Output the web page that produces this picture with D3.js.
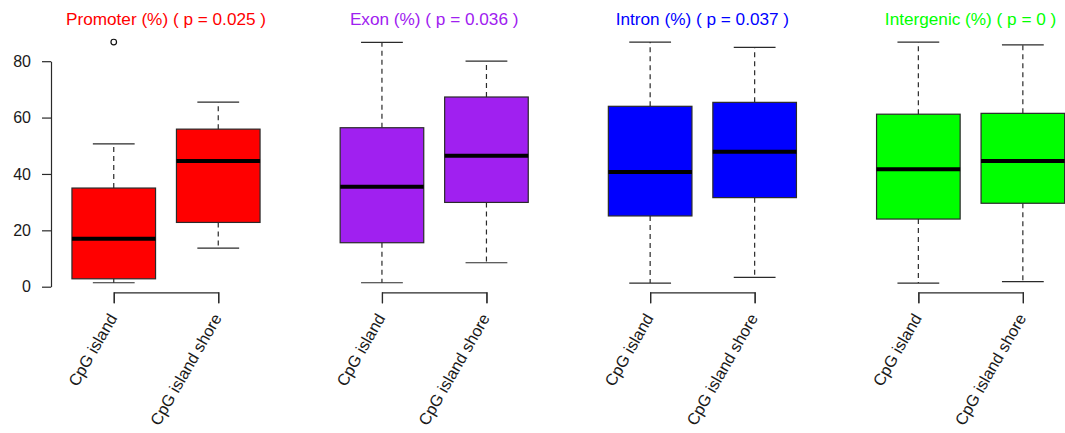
<!DOCTYPE html>
<html>
<head>
<meta charset="utf-8">
<script src="https://cdn.jsdelivr.net/npm/d3@7"></script>
<style>
  html, body { margin: 0; padding: 0; background: #fff; }
  svg { display: block; font-family: "Liberation Sans", Arial, sans-serif; }
</style>
</head>
<body>
<svg id="chart" width="1065" height="433"></svg>
<script>
// ---- Data ----
const categories = ["CpG island", "CpG island shore"];
const panelNames = ["Promoter", "Exon", "Intron", "Intergenic"];
const pValues = ["0.025", "0.036", "0.037", "0"];
const yTicks = [0, 20, 40, 60, 80];
// five-number summaries: [lower whisker, Q1, median, Q3, upper whisker]
const promoterStats = [[1.4, 2.8, 17.0, 35.0, 50.7], [13.7, 22.8, 44.6, 55.9, 65.5]];
const exonStats = [[1.4, 15.6, 35.5, 56.4, 86.7], [8.5, 29.9, 46.5, 67.3, 80.0]];
const intronStats = [[1.3, 25.1, 40.7, 64.0, 86.8], [3.3, 31.6, 47.9, 65.4, 84.9]];
const intergenicStats = [[1.3, 24.0, 41.7, 61.2, 86.8], [1.8, 29.6, 44.6, 61.5, 85.8]];
const promoterOutliers = [[86.8], []];
const exonOutliers = [[], []];
const intronOutliers = [[], []];
const intergenicOutliers = [[], []];
const panelColors = ["#FF0000", "#A020F0", "#0000FF", "#00FF00"];

const allStats = [promoterStats, exonStats, intronStats, intergenicStats];
const allOutliers = [promoterOutliers, exonOutliers, intronOutliers, intergenicOutliers];

// ---- Layout ----
const svg = d3.select("#chart");
const y = d3.scaleLinear().domain([0, 80]).range([286.7, 61.2]);
const panelX = d3.scaleLinear().domain([0, 3]).range([166, 166 + 3 * 268.2]);
const unit = 104.5; // px per box slot
const boxW = 0.8 * unit;
const lineCol = "#2a2a2a";

// y axis (first panel only)
const yAxis = d3.axisLeft(y).tickValues(yTicks).tickSize(9).tickSizeOuter(0).tickPadding(11);
const gy = svg.append("g").attr("transform", "translate(51,0)").call(yAxis);
gy.selectAll("path,line").attr("stroke", lineCol).attr("stroke-width", 1.2);
gy.selectAll("text").attr("font-size", "16px").attr("fill", "#1a1a1a")
  .attr("font-family", "'Liberation Sans', Arial, sans-serif");

panelNames.forEach((name, i) => {
  const pc = panelX(i);
  const x = d3.scaleLinear().domain([0.5, 2.5]).range([pc - unit, pc + unit]);
  const g = svg.append("g");
  const stats = allStats[i];
  const outs = allOutliers[i];

  // title
  g.append("text")
    .attr("x", pc).attr("y", 25)
    .attr("text-anchor", "middle")
    .attr("font-size", "17.2px")
    .attr("fill", panelColors[i])
    .text(`${name} (%) ( p = ${pValues[i]} )`);

  stats.forEach((s, j) => {
    const cx = x(j + 1);
    const [lo, q1, med, q3, hi] = s;
    // whiskers (dashed)
    g.append("line").attr("x1", cx).attr("x2", cx).attr("y1", y(q3)).attr("y2", y(hi))
      .attr("stroke", lineCol).attr("stroke-width", 1.2).attr("stroke-dasharray", "5,4");
    g.append("line").attr("x1", cx).attr("x2", cx).attr("y1", y(q1)).attr("y2", y(lo))
      .attr("stroke", lineCol).attr("stroke-width", 1.2).attr("stroke-dasharray", "5,4");
    // caps
    [lo, hi].forEach(v => {
      g.append("line").attr("x1", cx - boxW / 4).attr("x2", cx + boxW / 4)
        .attr("y1", y(v)).attr("y2", y(v))
        .attr("stroke", lineCol).attr("stroke-width", 1.2);
    });
    // box
    g.append("rect")
      .attr("x", cx - boxW / 2).attr("width", boxW)
      .attr("y", y(q3)).attr("height", y(q1) - y(q3))
      .attr("fill", panelColors[i])
      .attr("stroke", lineCol).attr("stroke-width", 1.2);
    // median
    g.append("line").attr("x1", cx - boxW / 2).attr("x2", cx + boxW / 2)
      .attr("y1", y(med)).attr("y2", y(med))
      .attr("stroke", "#000").attr("stroke-width", 4);
    // outliers
    outs[j].forEach(v => {
      g.append("circle").attr("cx", cx).attr("cy", y(v)).attr("r", 2.8)
        .attr("fill", "none").attr("stroke", "#111").attr("stroke-width", 1.2);
    });
  });

  // x axis bracket
  const xs = d3.scalePoint().domain(categories).range([x(1), x(2)]).padding(0);
  const xAxis = d3.axisBottom(xs).tickSize(11).tickSizeOuter(11).tickFormat("");
  const gx = svg.append("g").attr("transform", "translate(0,292.3)").call(xAxis);
  gx.selectAll("path,line").attr("stroke", lineCol).attr("stroke-width", 1.2);

  categories.forEach(c => {
    svg.append("text")
      .attr("transform", `translate(${xs(c) - 1},315) rotate(-60)`)
      .attr("text-anchor", "end")
      .attr("dy", "0.35em")
      .attr("font-size", "16.3px")
      .attr("fill", "#1a1a1a")
      .text(c);
  });
});
</script>
</body>
</html>
